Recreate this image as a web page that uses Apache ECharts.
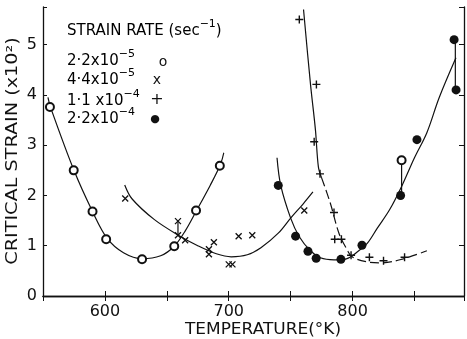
<!DOCTYPE html>
<html>
<head>
<meta charset="utf-8">
<script src="https://cdn.jsdelivr.net/npm/echarts@6/dist/echarts.min.js"></script>
<style>html,body{margin:0;padding:0;background:#fff}#c{width:467px;height:339px}</style>
</head>
<body>
<div id="c"></div>
<script>
// ---- data ----
var xTicks = [600, 700, 800];
var yTicks = [0, 1, 2, 3, 4, 5];
// legend rows: [mantissa, exponent, marker]
var legendTitle = ['STRAIN RATE (sec', '\u22121', ')'];
var legendRates = [['2\u00B72x10', '\u22125', 'o'], ['4\u00B74x10', '\u22125', 'x'], ['1\u00B71 x10', '\u22124', '+'], ['2\u00B72x10', '\u22124', '\u25CF']];
var xTitle = 'TEMPERATURE(\u00B0K)';
var yTitle = 'CRITICAL STRAIN (x10\u00B2)';

// measured points  [temperature K, critical strain x10^2]
var rate1Points = [[555.6,3.76],[574.8,2.50],[590,1.68],[601,1.13],[630,0.73],[656,0.99],[673.6,1.70],[692.8,2.59],[839.6,2.70]];
var rate2Points = [[616.4,1.94],[659,1.49],[659,1.21],[664.8,1.11],[684,0.93],[684,0.83],[688,1.07],[700,0.63],[703,0.63],[708,1.19],[719,1.21],[761,1.70]];
var rate3Points = [[757,5.50],[770.8,4.21],[769,3.07],[773.7,2.43],[785,1.66],[785.6,1.13],[791,1.13],[798.8,0.81],[813.6,0.77],[825,0.70],[842,0.77]];
var rate4Points = [[740,2.20],[754,1.19],[764,0.89],[770.6,0.75],[790.6,0.73],[807.6,1.01],[838.8,2.00],[852,3.11],[882,5.10],[883.6,4.10]];

// hand-drawn fitted curves
var rate1Curve = [[554,3.95],[556,3.76],[575,2.50],[590,1.68],[602,1.14],[615,0.86],[630,0.74],[645,0.80],[656,0.99],[665,1.30],[674,1.70],[685,2.20],[693,2.60],[696,2.85]];
var rate2Curve = [[616,2.21],[622,1.93],[640,1.52],[660,1.20],[675,1.00],[690,0.84],[702,0.78],[715,0.82],[726,0.96],[740,1.25],[750,1.55],[760,1.83],[768,2.07]];
var rate3CurveUpper = [[760.4,5.70],[766,4.22],[770,3.31],[772.4,2.57],[775,2.35]];
var rate3CurveLower = [[775,2.35],[782,1.85],[789,1.25],[795.6,0.92],[799.6,0.78],[811.6,0.68],[823.6,0.66],[841,0.74],[860,0.90]];
var rate4Curve = [[739,2.75],[742,2.20],[750,1.55],[757,1.18],[766,0.90],[774,0.76],[785,0.72],[795,0.74],[805,0.90],[812,1.05],[820,1.35],[830,1.72],[840,2.20],[850,2.75],[860,3.25],[870,3.95],[883.5,4.74]];

// vertical joins between paired points
var join1 = [[659,1.49],[659,1.21]];
var join2 = [[839.6,2.70],[839.6,2.00]];
var join3 = [[883,5.10],[883,4.10]];

// ---- chart ----
var ink = '#111';
var font = 'DejaVu Sans';
function curve(data, dashed){
  return {type:'line', data:data, smooth:0.35, showSymbol:false, symbol:'none', silent:true,
    lineStyle:{color:ink, width:1.2, type: dashed ? [9,4] : 'solid'}, z:2};
}
function join(data){
  return {type:'line', data:data, showSymbol:false, symbol:'none', silent:true,
    lineStyle:{color:ink, width:1.2}, z:2};
}
var rich = {
  n:{fontFamily:font, fontSize:15, lineHeight:24, color:ink, verticalAlign:'middle'},
  s:{fontFamily:font, fontSize:11, lineHeight:11, color:ink, verticalAlign:'top'}
};
function legendText(top, parts){
  var txt = '{n|' + parts[0] + '}{s|' + parts[1] + '}' + (parts.length > 2 && parts[2] === ')' ? '{n|)}' : '');
  return {type:'text', left:67, top:top, style:{text:txt, rich:rich}};
}
function marker(x, y, ch, size){
  return {type:'text', x:x, y:y, style:{text:ch, fill:ink, font:size + 'px "DejaVu Sans"', textAlign:'center', textVerticalAlign:'middle'}};
}
var axisLineStyle = {lineStyle:{color:ink, width:1.3}};
var chart = echarts.init(document.getElementById('c'), null, {renderer:'canvas'});
chart.setOption({
  animation:false,
  backgroundColor:'#fff',
  grid:{left:43, top:7, right:-1, bottom:43, containLabel:false},
  xAxis:[
    {type:'value', position:'bottom', min:550, max:890, interval:50,
     axisLine:axisLineStyle, splitLine:{show:false},
     axisTick:{inside:true, length:5, lineStyle:{color:ink}},
     axisLabel:{color:ink, fontFamily:font, fontSize:16, margin:8,
       formatter:function(v){return xTicks.indexOf(v)>=0 ? String(v) : '';}}},
    {type:'value', position:'top', min:550, max:890, interval:50,
     axisLine:axisLineStyle, splitLine:{show:false},
     axisTick:{inside:true, length:5, lineStyle:{color:ink}}, axisLabel:{show:false}}
  ],
  yAxis:[
    {type:'value', position:'left', min:0, max:5.75, interval:1,
     axisLine:axisLineStyle, splitLine:{show:false},
     axisTick:{inside:true, length:4, lineStyle:{color:ink}},
     axisLabel:{color:ink, fontFamily:font, fontSize:16, margin:6,
       formatter:function(v){return yTicks.indexOf(v)>=0 ? String(v) : '';}}},
    {type:'value', position:'right', min:0, max:5.75, interval:1,
     axisLine:axisLineStyle, splitLine:{show:false},
     axisTick:{inside:true, length:5, lineStyle:{color:ink}}, axisLabel:{show:false}}
  ],
  series:[
    curve(rate1Curve,false), curve(rate2Curve,false), curve(rate3CurveUpper,false), curve(rate3CurveLower,true), curve(rate4Curve,false),
    join(join1), join(join2), join(join3),
    {type:'scatter', name:'2.2e-5', data:rate1Points, symbol:'emptyCircle', symbolSize:8,
     itemStyle:{color:ink, borderColor:ink, borderWidth:1, opacity:1}, z:4},
    {type:'scatter', name:'4.4e-5', data:rate2Points, symbol:'path://M0,0L10,10M10,0L0,10', symbolSize:6,
     itemStyle:{color:'none', borderColor:ink, borderWidth:1.3, opacity:1}, z:4},
    {type:'scatter', name:'1.1e-4', data:rate3Points, symbol:'path://M5,0L5,10M0,5L10,5', symbolSize:8,
     itemStyle:{color:'none', borderColor:ink, borderWidth:1.4, opacity:1}, z:4},
    {type:'scatter', name:'2.2e-4', data:rate4Points, symbol:'circle', symbolSize:9,
     itemStyle:{color:ink, opacity:1}, z:4}
  ],
  graphic:[
    legendText(19, legendTitle),
    legendText(49, legendRates[0]),
    legendText(68, legendRates[1]),
    legendText(89, legendRates[2]),
    legendText(107, legendRates[3]),
    marker(163, 62, legendRates[0][2], 14),
    marker(157, 80, legendRates[1][2], 14),
    marker(157, 100, legendRates[2][2], 16),
    marker(155, 119, legendRates[3][2], 11),
    {type:'text', x:263, y:330, scaleX:1.06, style:{text:xTitle, fill:ink, font:'16px "DejaVu Sans"', textAlign:'center', textVerticalAlign:'middle'}},
    {type:'text', x:13, y:151, rotation:Math.PI/2, scaleX:1.2, style:{text:yTitle, fill:ink, font:'16px "DejaVu Sans"', textAlign:'center', textVerticalAlign:'middle'}}
  ]
});
</script>
</body>
</html>
